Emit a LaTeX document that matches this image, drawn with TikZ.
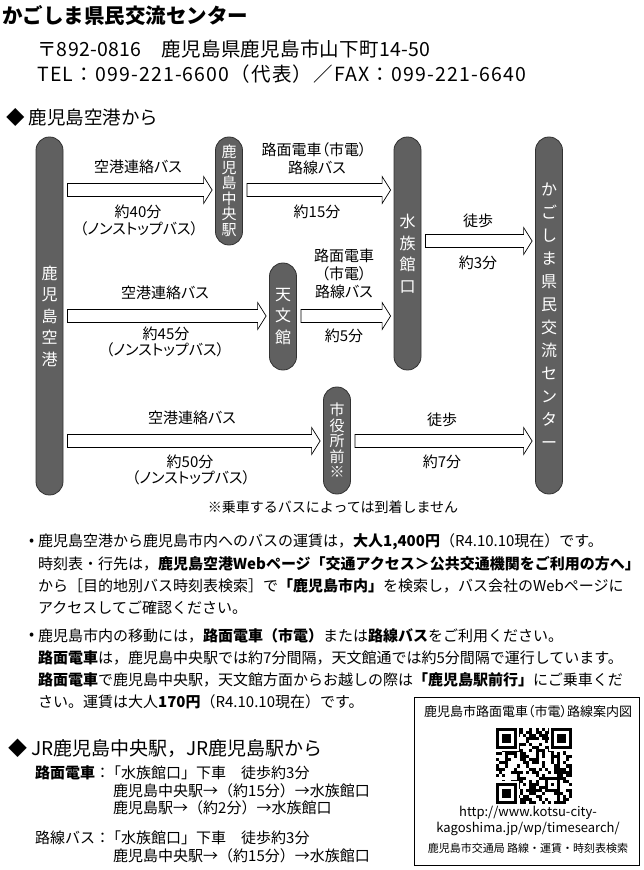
\documentclass[tikz,border=0pt]{standalone}
\usepackage{fontspec}
\setmainfont{Noto Sans CJK JP}
\newfontfamily\pfont{Noto Sans CJK JP}[RawFeature=+palt]
\usetikzlibrary{calc}
\definecolor{pillargray}{RGB}{96,96,96}
\definecolor{pillaredge}{RGB}{50,50,50}
\tikzset{
  txt/.style={inner sep=0pt, anchor=west},
  lbl/.style={inner sep=0pt, font=\pfont\fontsize{15}{17}\selectfont},
  body/.style={inner sep=0pt, anchor=west, font=\fontsize{15}{17}\selectfont},
  pillar/.style={draw=pillaredge, line width=0.8pt, fill=pillargray, rounded corners=13.4pt,
    minimum width=27pt, inner sep=0pt, text=white, align=center},
  bigpil/.style={pillar, font=\fontsize{16}{21.5}\selectfont},
  smallpil/.style={pillar, font=\fontsize{15}{15.5}\selectfont},
  barrow/.style={draw=black, line width=0.7pt, fill=white, line join=miter}
}
\newcommand{\blockarr}[3]{%
  \draw[barrow] let \p1=(#1.east), \p2=(#2.west) in
   (\x1+4,-#3+6.5) -- (\x2-11.5,-#3+6.5) -- (\x2-11.5,-#3+13.5) -- (\x2-3,-#3)
   -- (\x2-11.5,-#3-13.5) -- (\x2-11.5,-#3-6.5) -- (\x1+4,-#3-6.5) -- cycle;}
\begin{document}
\begin{tikzpicture}[x=1pt,y=1pt]
\useasboundingbox (0,0) rectangle (643,-870);
% header
\node[txt, font=\bfseries\fontsize{20.5}{24}\selectfont] (title) at (2,-15) {かごしま県民交流センター};
\node[txt, font=\fontsize{19.5}{22}\selectfont\addfontfeature{LetterSpace=1.5}] (addr) at (37,-49) {〒892-0816　鹿児島県鹿児島市山下町14-50};
\node[txt, font=\fontsize{19.5}{22}\selectfont\addfontfeature{LetterSpace=6}] (tel) at (37,-74) {TEL：099-221-6600（代表）／FAX：099-221-6640};
\node[txt, font=\fontsize{18.5}{22}\selectfont] (h1) at (6,-117) {◆ 鹿児島空港から};
% pillars
\node[bigpil, minimum height=358pt] (kap) at (49.5,-316) {鹿\\児\\島\\空\\港};
\node[smallpil, minimum height=108pt] (chu) at (229,-191) {鹿\\児\\島\\中\\央\\駅};
\node[bigpil, minimum height=107pt] (ten) at (283,-316.5) {天\\文\\館};
\node[bigpil, minimum height=233pt] (sui) at (407.5,-253.5) {水\\族\\館\\口};
\node[bigpil, minimum height=357pt, font=\fontsize{16}{23}\selectfont] (cen) at (549,-315.5) {か\\ご\\し\\ま\\県\\民\\交\\流\\セ\\ン\\タ\\ー};
\node[smallpil, minimum height=107pt] (shi) at (337,-440.5) {市\\役\\所\\前\\※};
% arrows
\blockarr{kap}{chu}{190}
\blockarr{chu}{sui}{190}
\blockarr{sui}{cen}{241}
\blockarr{kap}{ten}{316}
\blockarr{ten}{sui}{316}
\blockarr{kap}{shi}{441}
\blockarr{shi}{cen}{441}
% labels
\node[lbl] (l1a) at (138,-167) {空港連絡バス};
\node[lbl] (l1b) at (138,-212) {約40分};
\node[lbl] (l1c) at (139,-229) {（ノンストップバス）};
\node[lbl] (l2a) at (314,-150) {路面電車（市電）};
\node[lbl] (l2b) at (317,-168) {路線バス};
\node[lbl] (l2c) at (317,-212) {約15分};
\node[lbl] (l3a) at (478,-221) {徒歩};
\node[lbl] (l3b) at (478,-263) {約3分};
\node[lbl] (l4a) at (165,-293) {空港連絡バス};
\node[lbl] (l4b) at (166,-334) {約45分};
\node[lbl] (l4c) at (165,-350) {（ノンストップバス）};
\node[lbl] (l5a) at (344,-256) {路面電車};
\node[lbl] (l5b) at (344,-274) {（市電）};
\node[lbl] (l5c) at (344,-292) {路線バス};
\node[lbl] (l5d) at (344,-336) {約5分};
\node[lbl] (l6a) at (192,-418) {空港連絡バス};
\node[lbl] (l6b) at (190,-462) {約50分};
\node[lbl] (l6c) at (191,-478) {（ノンストップバス）};
\node[lbl] (l7a) at (442,-420) {徒歩};
\node[lbl] (l7b) at (442,-462) {約7分};
\node[lbl, font=\fontsize{14}{16}\selectfont] (note) at (333,-507) {※乗車するバスによっては到着しません};
% body text
\node[body] (b1dot) at (29,-542) {•};
\node[body] (b1) at (38,-542) {鹿児島空港から鹿児島市内へのバスの運賃は，\textbf{大人1,400円}（R4.10.10現在）です。};
\node[body] (b2) at (38,-564) {時刻表・行先は，\textbf{鹿児島空港Webページ「交通アクセス＞公共交通機関をご利用の方へ」}};
\node[body] (b3) at (38,-586) {から［目的地別バス時刻表検索］で\textbf{「鹿児島市内」}を検索し，バス会社のWebページに};
\node[body] (b4) at (38,-608) {アクセスしてご確認ください。};
\node[body] (b5dot) at (29,-636) {•};
\node[body] (b5) at (38,-636) {鹿児島市内の移動には，\textbf{路面電車（市電）}または\textbf{路線バス}をご利用ください。};
\node[body] (b6) at (38,-658) {\textbf{路面電車}は，鹿児島中央駅では約7分間隔，天文館通では約5分間隔で運行しています。};
\node[body] (b7) at (38,-680) {\textbf{路面電車}で鹿児島中央駅，天文館方面からお越しの際は\textbf{「鹿児島駅前行」}にご乗車くだ};
\node[body] (b8) at (38,-702) {さい。運賃は大人\textbf{170円}（R4.10.10現在）です。};
% section 2
\node[txt, font=\fontsize{19}{22}\selectfont] (h2) at (8,-748) {◆ JR鹿児島中央駅，JR鹿児島駅から};
\node[body] (s1) at (35,-773) {\textbf{路面電車}：};
\node[body] (s1b) at (106,-773) {「水族館口」下車　徒歩約3分};
\node[body] (s2) at (113,-791) {鹿児島中央駅→（約15分）→水族館口};
\node[body] (s3) at (113,-808) {鹿児島駅→（約2分）→水族館口};
\node[body] (s4) at (35,-838) {路線バス：};
\node[body] (s4b) at (106,-838) {「水族館口」下車　徒歩約3分};
\node[body] (s5) at (113,-856) {鹿児島中央駅→（約15分）→水族館口};
% QR box
\node[draw=black, line width=0.8pt, minimum width=225pt, minimum height=168pt, inner sep=0pt] (qrbox) at (526.5,-781) {};
\node[lbl, font=\pfont\fontsize{13}{15}\selectfont] (qrt) at (528,-712) {鹿児島市路面電車（市電）路線案内図};
\begin{scope}[shift={(496,-728)}]
  \pgfmathsetseed{4242}
  \foreach \i in {0,...,24}{\foreach \j in {0,...,24}{%
    \pgfmathrandominteger{\qrbit}{0}{1}%
    \ifnum\qrbit=1 \fill (\i*3.04,-\j*3.04) rectangle ++(3.04,-3.04);\fi}}
  \foreach \cx/\cy in {0/0,18/0,0/18}{%
    \fill[white] ({(\cx-0.5)*3.04},{-(\cy-0.5)*3.04}) rectangle ++(8*3.04,-8*3.04);
    \fill[black] (\cx*3.04,-\cy*3.04) rectangle ++(7*3.04,-7*3.04);
    \fill[white] ({(\cx+1)*3.04},{-(\cy+1)*3.04}) rectangle ++(5*3.04,-5*3.04);
    \fill[black] ({(\cx+2)*3.04},{-(\cy+2)*3.04}) rectangle ++(3*3.04,-3*3.04);}
  \fill[black] (16*3.04,-16*3.04) rectangle ++(5*3.04,-5*3.04);
  \fill[white] (17*3.04,-17*3.04) rectangle ++(3*3.04,-3*3.04);
  \fill[black] (18*3.04,-18*3.04) rectangle ++(3.04,-3.04);
\end{scope}
\node[lbl, font=\fontsize{13}{15}\selectfont] (url1) at (528,-813) {http://www.kotsu-city-};
\node[lbl, font=\fontsize{13}{15}\selectfont] (url2) at (528,-829) {kagoshima.jp/wp/timesearch/};
\node[lbl, font=\fontsize{11}{13}\selectfont] (qrf) at (528,-848) {鹿児島市交通局 路線・運賃・時刻表検索};
\end{tikzpicture}
\end{document}
